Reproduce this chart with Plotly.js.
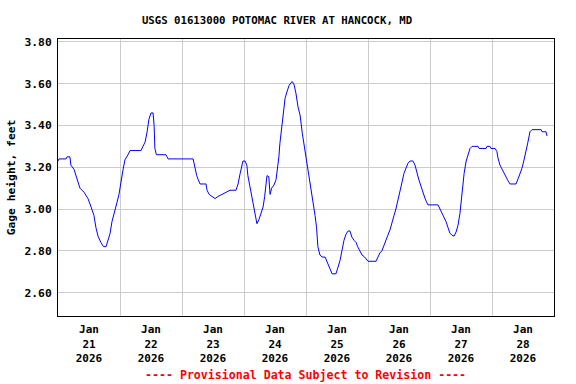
<!DOCTYPE html>
<html>
<head>
<meta charset="utf-8">
<script src="https://cdn.plot.ly/plotly-3.0.1.min.js"></script>
<style>html,body{margin:0;padding:0;background:#fff;}#chart{width:576px;height:384px;}</style>
</head>
<body>
<div id="chart"></div>
<script>
// Hours after 2026-01-21 00:00 (local station time) and gage height, feet
const startDate = '2026-01-21';
const hoursAfterStart = [
  0, 0.4, 3.1, 3.5, 4.6, 5.0, 6.2, 7.0, 7.9, 8.5, 10.1, 11.6, 12.8, 13.9, 14.7, 15.5, 16.6, 17.6, 18.6, 19.4,
  20.1, 20.9, 22.1, 22.8, 23.6, 24.4, 25.2, 25.9, 26.7, 27.1, 27.9, 32.1, 32.9, 33.7, 34.5, 35.2, 36.0, 36.8, 37.2, 37.5,
  38.1, 41.8, 42.2, 42.6, 52.3, 52.6, 53.0, 53.7, 54.3, 55.0, 57.3, 57.7, 58.5, 59.6, 60.8, 61.9, 63.5, 65.0, 66.6, 68.9,
  69.7, 70.5, 71.1, 71.6, 72.4, 73.1, 73.5, 74.3, 75.0, 75.6, 76.3, 77.0, 77.8, 78.6, 79.4, 80.0, 80.5, 80.9, 81.6, 81.8,
  82.1, 82.7, 83.6, 84.4, 85.0, 85.5, 85.9, 86.6, 87.2, 87.9, 88.6, 89.4, 90.2, 90.7, 91.4, 92.1, 92.9, 93.7, 94.6, 95.5,
  96.3, 97.0, 97.9, 98.7, 99.5, 100.1, 100.6, 101.4, 102.2, 103.4, 104.1, 105.2, 106.1, 107.6, 108.4, 109.2, 109.9, 110.7, 111.5, 112.3,
  113.0, 113.8, 114.6, 115.4, 116.0, 116.9, 117.7, 118.7, 120.0, 123.1, 123.9, 124.6, 125.4, 126.2, 127.0, 127.7, 128.5, 129.3, 130.1, 130.8,
  131.6, 132.4, 133.2, 133.9, 134.7, 135.5, 136.3, 137.4, 138.2, 139.0, 139.7, 140.5, 141.3, 142.1, 142.8, 143.2, 147.1, 147.9, 148.6, 149.4,
  150.2, 151.0, 151.7, 152.5, 153.3, 154.1, 154.8, 155.6, 156.4, 157.2, 158.0, 158.7, 159.5, 160.3, 162.6, 163.0, 165.7, 166.1, 167.2, 167.6,
  169.2, 169.9, 170.3, 171.1, 171.9, 172.6, 173.4, 174.2, 175.0, 177.3, 178.1, 178.8, 179.6, 180.4, 181.2, 181.9, 182.7, 183.5, 187.0, 187.4,
  188.9, 189.3
];
const gageHeight = [
  3.23, 3.24, 3.24, 3.25, 3.25, 3.21, 3.19, 3.16, 3.115, 3.10, 3.08, 3.05, 3.01, 2.97, 2.91, 2.87, 2.84, 2.82, 2.82, 2.85,
  2.88, 2.94, 2.99, 3.03, 3.07, 3.14, 3.19, 3.235, 3.25, 3.26, 3.28, 3.28, 3.30, 3.32, 3.37, 3.43, 3.46, 3.46, 3.40, 3.29,
  3.26, 3.26, 3.25, 3.24, 3.24, 3.22, 3.19, 3.16, 3.14, 3.12, 3.12, 3.09, 3.07, 3.06, 3.05, 3.06, 3.07, 3.08, 3.09, 3.09,
  3.12, 3.17, 3.21, 3.23, 3.23, 3.21, 3.16, 3.11, 3.06, 3.01, 2.97, 2.93, 2.95, 2.98, 3.01, 3.06, 3.12, 3.16, 3.155, 3.08,
  3.07, 3.10, 3.115, 3.14, 3.195, 3.25, 3.315, 3.40, 3.48, 3.53, 3.56, 3.59, 3.605, 3.61, 3.595, 3.555, 3.49, 3.45, 3.36, 3.29,
  3.22, 3.17, 3.11, 3.04, 2.97, 2.91, 2.82, 2.78, 2.77, 2.77, 2.75, 2.72, 2.69, 2.69, 2.72, 2.755, 2.80, 2.85, 2.88, 2.895,
  2.895, 2.865, 2.85, 2.84, 2.82, 2.80, 2.78, 2.77, 2.75, 2.75, 2.77, 2.79, 2.80, 2.83, 2.85, 2.875, 2.90, 2.93, 2.97, 3.00,
  3.04, 3.09, 3.13, 3.17, 3.20, 3.22, 3.23, 3.23, 3.21, 3.17, 3.14, 3.11, 3.075, 3.05, 3.03, 3.02, 3.02, 3.00, 2.98, 2.965,
  2.94, 2.91, 2.885, 2.875, 2.87, 2.89, 2.92, 2.98, 3.075, 3.17, 3.23, 3.26, 3.29, 3.30, 3.30, 3.29, 3.29, 3.30, 3.30, 3.29,
  3.29, 3.275, 3.245, 3.21, 3.19, 3.175, 3.15, 3.135, 3.12, 3.12, 3.145, 3.17, 3.195, 3.235, 3.275, 3.32, 3.37, 3.38, 3.38, 3.37,
  3.37, 3.35
];
const chartTitle = 'USGS 01613000 POTOMAC RIVER AT HANCOCK, MD';
const yAxisTitle = 'Gage height, feet';
const noteText = '---- Provisional Data Subject to Revision ----';
const xRange = ['2026-01-21 00:00', '2026-01-29 00:00'];
const yRange = [2.488, 3.814];

const base = Date.parse(startDate + 'T00:00:00Z');
const times = hoursAfterStart.map(h => new Date(base + h * 3600000).toISOString().slice(0, 19).replace('T', ' '));

const font = {family: '"DejaVu Sans Mono", "Liberation Mono", monospace', color: '#000', weight: 'bold'};

const data = [{
  type: 'scatter',
  mode: 'lines',
  x: times,
  y: gageHeight,
  line: {color: '#0000ff', width: 1},
  hoverinfo: 'x+y'
}];

const layout = {
  width: 576,
  height: 384,
  margin: {l: 58, r: 22, t: 39, b: 68, pad: 0},
  paper_bgcolor: '#ffffff',
  plot_bgcolor: '#ffffff',
  showlegend: false,
  font: Object.assign({}, font, {size: 11}),
  title: {
    text: chartTitle,
    font: Object.assign({}, font, {size: 10.7}),
    x: 277 / 576, xanchor: 'center', xref: 'container',
    y: 1 - 20 / 384, yanchor: 'middle', yref: 'container'
  },
  xaxis: {
    type: 'date',
    range: xRange,
    tick0: startDate,
    dtick: 86400000,
    ticklabelmode: 'period',
    tickformat: '%b<br>%d<br>%Y',
    ticks: '',
    ticklabelstandoff: 3,
    showgrid: true,
    gridcolor: '#cccccc',
    gridwidth: 1,
    zeroline: false,
    showline: true,
    linecolor: '#000',
    linewidth: 1,
    mirror: true,
    tickfont: Object.assign({}, font, {size: 11})
  },
  yaxis: {
    range: yRange,
    tick0: 2.6,
    dtick: 0.2,
    tickformat: '.2f',
    ticks: '',
    ticklen: 0,
    ticklabelstandoff: 3,
    showgrid: true,
    gridcolor: '#cccccc',
    gridwidth: 1,
    zeroline: false,
    showline: true,
    linecolor: '#000',
    linewidth: 1,
    mirror: true,
    tickfont: Object.assign({}, font, {size: 11.3}),
    title: {text: yAxisTitle, font: Object.assign({}, font, {size: 11.3}), standoff: 6}
  },
  annotations: [{
    text: noteText,
    xref: 'paper', yref: 'paper',
    x: 0.499, y: (316 - 375) / 277,
    xanchor: 'center', yanchor: 'middle',
    showarrow: false,
    font: Object.assign({}, font, {size: 11.6, color: '#ff0000'})
  }]
};

Plotly.newPlot('chart', data, layout, {staticPlot: true, displayModeBar: false});
</script>
</body>
</html>
